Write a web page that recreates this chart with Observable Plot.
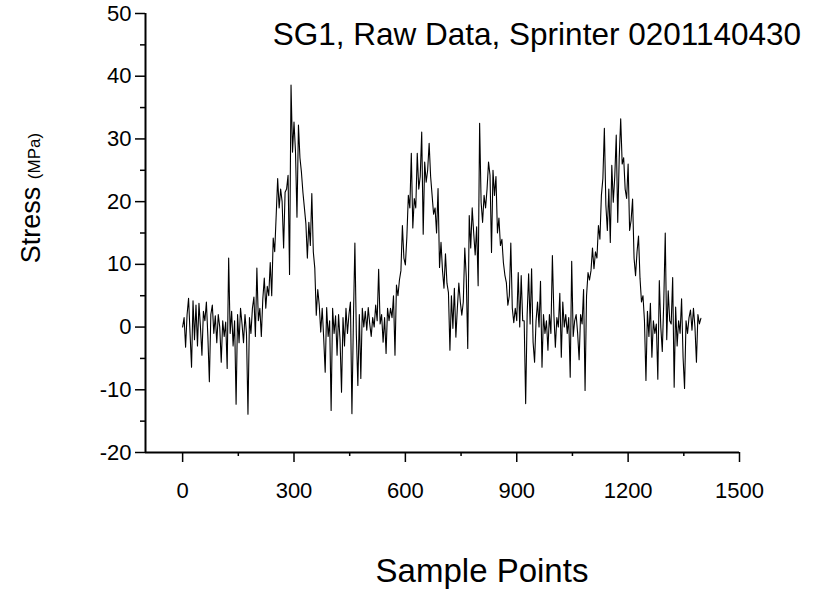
<!DOCTYPE html>
<html>
<head>
<meta charset="utf-8">
<script src="https://cdn.jsdelivr.net/npm/d3@7"></script>
<script src="https://cdn.jsdelivr.net/npm/@observablehq/plot@0.6"></script>
<style>
  html, body { margin: 0; padding: 0; background: #fff; }
  #wrap { position: relative; width: 817px; height: 592px; font-family: "Liberation Sans", Arial, sans-serif; color: #000; }
  #title { position: absolute; right: 16px; top: 19px; font-size: 31.5px; white-space: nowrap; line-height: 1; }
  #xlabel { position: absolute; left: 0; width: 964px; top: 554px; text-align: center; font-size: 33px; line-height: 1; }
  #ylabel { position: absolute; left: 31px; top: 198px; transform: translate(-50%, -50%) rotate(-90deg); white-space: nowrap; font-size: 27px; line-height: 1; }
  #ylabel small { font-size: 17px; }
</style>
</head>
<body>
<div id="wrap">
  <div id="chart"></div>
  <div id="title">SG1, Raw Data, Sprinter 0201140430</div>
  <div id="ylabel">Stress <small>(MPa)</small></div>
  <div id="xlabel">Sample Points</div>
</div>
<script>
// Sample spacing of the readings below (sample points per value)
const sampleStep = 4;

// Stress (MPa), one value every 4 sample points, starting at sample 0
const stress = [
  0, 1.5, -3.2, 2, 4.6, -1, -6.4, 4.2, -2, 3.5,
  -3, 3.8, 0, -4.5, 2.5, 1, 4, -1.5, -8.7, 2,
  3.5, -1, 1.8, -2.5, 2, 0, -5.6, 1, -1.5, 0.8,
  -6.6, 11, -1, 2.5, -3, 1, -12.3, 2, -2.5, 3,
  0.5, -2.5, 2, -1, -13.9, 1.5, -1, 3, 4.8, -1.5,
  9.4, 1, 3, -1.5, 4.5, 7.8, 3, 6.5, 5, 10.3,
  5, 14.2, 12, 17.8, 23.7, 19, 22, 20, 12.6, 21.5,
  22, 24.2, 8.4, 38.6, 27.9, 32.7, 28, 17.5, 32.2, 27,
  24.7, 21.5, 19, 16.5, 11, 16.7, 13, 21.3, 12, 9.4,
  1.9, 6, 3.5, -0.8, 3, -1.8, -7.2, 3.1, -1.5, 1,
  -13.3, 3, -1, 1.8, -4.5, 2, -2, -10.4, 1.5, -3,
  3, -1, 2, 4, -13.8, 1, 13.4, -1.3, -9.3, 2,
  -8.2, 3, 0, 2.5, -0.5, 3.1, 0.5, -1.5, 1.5, 0,
  3.5, 1, 9.2, 0.5, 2, -2.4, 1.5, -4.2, 3, 1,
  3, 1.5, 5, -4.5, 6.7, 5, 7.5, 9, 16.2, 11,
  9.9, 14.4, 21, 19, 27.7, 15.8, 20.5, 19, 27.7, 22,
  24, 31.1, 14.8, 26.3, 23.1, 25, 29.3, 24, 21, 18,
  19, 15, 22.1, 9.5, 13.5, 9, 6.2, 11.7, 7, 5.5,
  -3.7, 5, -0.2, 6.2, -1.6, 3, 7, 4, 1.9, 4,
  12.6, 8, -3.4, 17.8, 12.6, 19, 15, 11.5, 16, 6.6,
  32.5, 19.9, 16.7, 21, 19, 22, 26.3, 24.2, 11.9, 25,
  21, 24, 15, 17.4, 13, 14, 10.3, 8.3, 7.1, 3.5,
  5, 13.4, 3, 0.7, 3, 1, 8.7, 0, 8.2, 1,
  1, -12.2, 2, 8.5, 0.5, 9.3, -2.4, -5.6, 1, 4,
  0, 7.3, -6.4, 2, -1, 1, -3.7, 2, -1, 11.4,
  2, -3.2, 1.5, 0, 5.4, -4.8, 4, 0, 2, -1,
  1.5, -8, 10.5, -1.5, 1, 2, -1, -5.2, 2, 0.5,
  6, -10.1, 5, 8.7, 7.5, 9, 12.6, 9.3, 12, 11,
  16.2, 14, 21, 23.7, 31.7, 19.5, 15.4, 22, 13.5, 25.8,
  19.9, 24, 30.6, 16.7, 27, 33.2, 26, 27, 22, 20.5,
  26, 15.4, 17, 20.4, 11, 8.2, 12, 14.5, 7.8, 4,
  5, 1, -8.5, 2.5, -1.5, 3.8, -4.8, 1, -1, 0.5,
  -8.3, 7.4, 0, -3.9, 4, 15, -2, 5.8, 1, 0.5,
  7.9, -9.6, 3.2, -3, 1, -1, 4.5, -4.8, -9.8, 1,
  -1, 1.5, 2.7, -0.5, 3, 0, -5.6, 2, 0.5, 1.4
];

// Axis ticks
const xTicks = [0, 300, 600, 900, 1200, 1500];
const xMinorTicks = [150, 450, 750, 1050, 1350];
const yTicks = [-20, -10, 0, 10, 20, 30, 40, 50];
const yMinorTicks = [-15, -5, 5, 15, 25, 35, 45];
const xDomain = [-100, 1500];
const yDomain = [-20, 50];

const data = stress.map((v, i) => ({sample: i * sampleStep, stress: v}));

const fontFamily = '"Liberation Sans", Arial, sans-serif';

const chart = Plot.plot({
  width: 817,
  height: 592,
  marginTop: 13,
  marginLeft: 145,
  marginRight: 78,
  marginBottom: 140,
  style: {fontFamily, fontSize: "22px", color: "#000", background: "#fff", overflow: "visible"},
  x: {domain: xDomain, axis: null},
  y: {domain: yDomain, axis: null},
  marks: [
    Plot.line(data, {x: "sample", y: "stress", stroke: "#000", strokeWidth: 1.1}),
    Plot.axisX({ticks: xTicks, tickSize: 10, tickPadding: 20, tickFormat: d => String(d), fontSize: 22, strokeWidth: 1.5, stroke: "#000", label: null}),
    Plot.axisX({ticks: xMinorTicks, tickSize: 4, tickFormat: () => "", strokeWidth: 1.5, stroke: "#000", label: null}),
    Plot.axisY({ticks: yTicks, tickSize: 10, tickPadding: 4, tickFormat: d => String(d), fontSize: 22, strokeWidth: 1.5, stroke: "#000", label: null}),
    Plot.axisY({ticks: yMinorTicks, tickSize: 5, tickFormat: () => "", strokeWidth: 1.5, stroke: "#000", label: null}),
    Plot.ruleY([yDomain[0]], {stroke: "#000", strokeWidth: 2}),
    Plot.ruleX([xDomain[0]], {stroke: "#000", strokeWidth: 2})
  ]
});
document.getElementById("chart").appendChild(chart);
</script>
</body>
</html>
